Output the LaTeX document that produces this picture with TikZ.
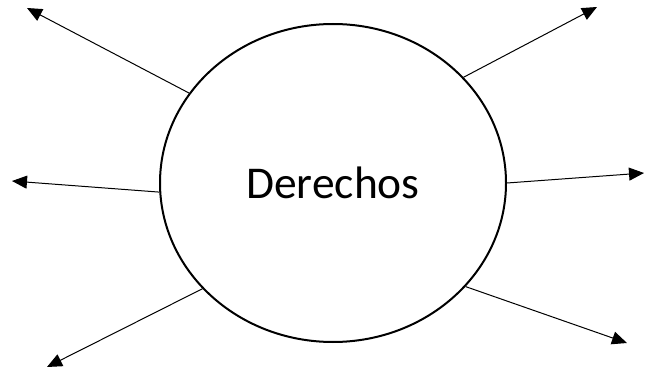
\documentclass[tikz,border=0pt]{standalone}
\usepackage{fontspec}
\setmainfont{Carlito}
\usepackage{xcolor}
\usetikzlibrary{arrows.meta,shapes.geometric}

\tikzset{
  mainEllipse/.style={draw, ellipse, line width=2pt,
    minimum width=346pt, minimum height=318pt,
    font=\fontsize{45.5}{54}\selectfont},
  outArrow/.style={-{Triangle[length=15pt,width=13pt]}, line width=1pt}
}

\begin{document}
\begin{tikzpicture}[x=1pt,y=-1pt]
  \useasboundingbox (0,0) rectangle (645,374);
  \node[mainEllipse] (rights) at (333,183) {Derechos};
  \foreach \ang/\name/\tx/\ty in {148.7/tipTL/27/8, 39.4/tipTR/597/7,
    183/tipML/12/181, 0.7/tipMR/644/173, 219/tipBL/47/367, 322.7/tipBR/627/343}
  {
    \coordinate (\name) at (\tx,\ty);
    \draw[outArrow] (rights.\ang) -- (\name);
  }
\end{tikzpicture}
\end{document}
